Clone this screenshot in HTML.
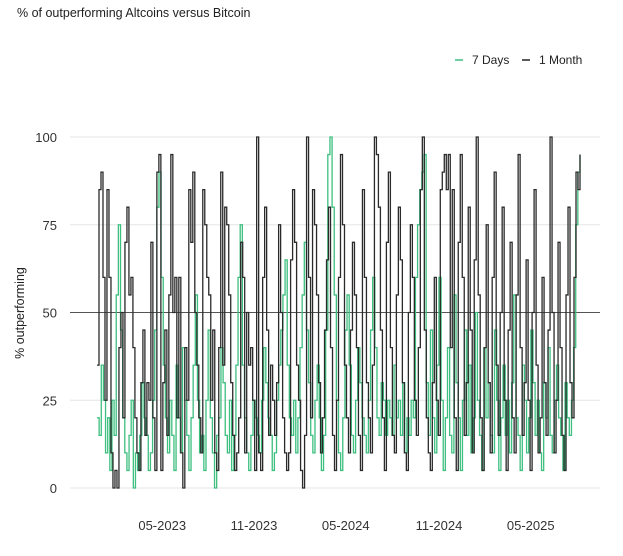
<!DOCTYPE html>
<html><head><meta charset="utf-8"><style>
body{margin:0;background:#fff;font-family:"Liberation Sans",sans-serif;}
svg text{font-family:"Liberation Sans",sans-serif;}
</style></head><body>
<svg width="623" height="551" viewBox="0 0 623 551" id="chart">
<text x="17" y="17" font-size="12.5" fill="#222">% of outperforming Altcoins versus Bitcoin</text>
<g>
<line x1="455" y1="60" x2="463" y2="60" stroke="#3dbf7f" stroke-width="1.5"/>
<text x="472" y="64" font-size="12" fill="#222">7 Days</text>
<line x1="522" y1="60" x2="530" y2="60" stroke="#222" stroke-width="1.5"/>
<text x="539" y="64" font-size="12" fill="#222">1 Month</text>
</g>
<text transform="translate(24,313) rotate(-90)" text-anchor="middle" font-size="12.5" fill="#222">% outperforming</text>
<g id="grid"></g><g id="series"></g><g id="xaxis"></g>
</svg>
<script>
const yTicks=[0,25,50,75,100];
const xTickLabels=["05-2023","11-2023","05-2024","11-2024","05-2025"];
const xTickDates=[0.135,0.325,0.515,0.708,0.898];
const monthVals=[35,85,90,60,25,85,60,10,0,5,0,40,50,20,70,80,55,60,40,20,10,5,30,45,15,30,25,70,20,5,90,95,5,30,45,15,55,95,50,60,20,60,10,0,40,25,85,70,90,50,35,20,10,85,75,60,55,25,45,10,5,40,90,35,80,75,55,30,15,5,10,20,70,60,10,50,35,40,25,5,100,10,5,60,80,45,15,35,25,15,30,75,50,20,10,5,10,65,85,70,35,25,5,0,15,100,60,20,85,75,55,30,10,20,45,65,80,40,15,5,25,60,95,75,35,20,10,45,70,55,40,15,5,85,60,30,20,10,35,100,95,80,45,20,5,70,90,40,15,10,55,80,65,30,10,5,50,75,60,25,15,40,85,100,45,20,10,5,30,60,25,15,85,90,95,85,95,40,85,20,5,70,95,60,15,30,80,45,10,65,100,55,20,5,40,75,30,10,60,90,35,15,50,80,25,5,45,70,20,10,55,95,40,15,30,65,25,5,50,85,35,10,20,60,30,15,45,100,50,10,25,70,40,15,5,55,80,30,20,60,90,85,95];
const weekVals=[20,15,35,25,10,20,5,25,15,55,75,45,20,10,5,15,25,0,10,5,15,30,20,15,5,10,25,45,80,90,60,35,20,10,25,15,5,35,20,10,40,25,15,5,20,35,55,25,10,15,5,25,45,20,10,0,15,20,40,30,15,10,25,5,15,35,60,75,35,20,10,5,15,25,20,15,10,25,40,30,20,15,5,10,25,35,45,55,65,35,20,15,25,10,20,40,55,70,45,30,15,10,25,35,20,5,15,45,95,100,80,55,25,10,5,20,45,55,35,15,10,25,40,30,20,15,10,25,45,60,40,20,15,30,25,15,25,20,15,35,20,25,15,30,10,20,15,25,20,60,75,85,90,95,30,15,45,20,10,35,60,25,5,20,40,15,10,55,30,20,5,25,45,15,35,10,20,50,25,15,5,40,20,30,15,10,45,25,5,20,35,15,25,10,30,55,20,15,5,35,25,10,20,45,30,15,25,10,5,30,20,40,15,10,25,35,20,15,5,30,20,15,25,40,75,90,95];
const X0=97,X1=580,Y0=488,Y1=137;
const xs=(i,n)=>X0+(X1-X0)*i/(n-1);
const ys=v=>Y0-(Y0-Y1)*v/100;
const NS="http://www.w3.org/2000/svg";
const grid=document.getElementById('grid'),ser=document.getElementById('series'),xa=document.getElementById('xaxis');
yTicks.forEach(t=>{
 const l=document.createElementNS(NS,'line');
 
 
 l.setAttribute('x1',70);l.setAttribute('x2',600);l.setAttribute('y1',ys(t));l.setAttribute('y2',ys(t));
 l.setAttribute('stroke',t===50?'#555':'#e6e6e6');l.setAttribute('stroke-width',1);
 grid.appendChild(l);
 const tx=document.createElementNS(NS,'text');
 
 
 tx.setAttribute('x',57);tx.setAttribute('y',ys(t)+5);tx.setAttribute('text-anchor','end');
 tx.setAttribute('font-size','13');tx.setAttribute('fill','#333');tx.textContent=t;
 grid.appendChild(tx);
});
function step(vals){const n=vals.length;let d='M'+xs(0,n)+','+ys(vals[0]);for(let i=1;i<n;i++){d+='H'+xs(i,n)+'V'+ys(vals[i]);}return d;}
const pw=document.createElementNS(NS,'path');


pw.setAttribute('d',step(weekVals));pw.setAttribute('fill','none');pw.setAttribute('stroke','#3dbf7f');pw.setAttribute('stroke-width','1.3');
ser.appendChild(pw);
const pm=document.createElementNS(NS,'path');


pm.setAttribute('d',step(monthVals));pm.setAttribute('fill','none');pm.setAttribute('stroke','#2a2a2a');pm.setAttribute('stroke-width','1.3');
ser.appendChild(pm);
xTickLabels.forEach((s,k)=>{
 const tx=document.createElementNS(NS,'text');
 
 
 tx.setAttribute('x',X0+(X1-X0)*xTickDates[k]);tx.setAttribute('y',530);tx.setAttribute('text-anchor','middle');
 tx.setAttribute('font-size','13');tx.setAttribute('fill','#333');tx.textContent=s;
 xa.appendChild(tx);
});
</script>
</body></html>
